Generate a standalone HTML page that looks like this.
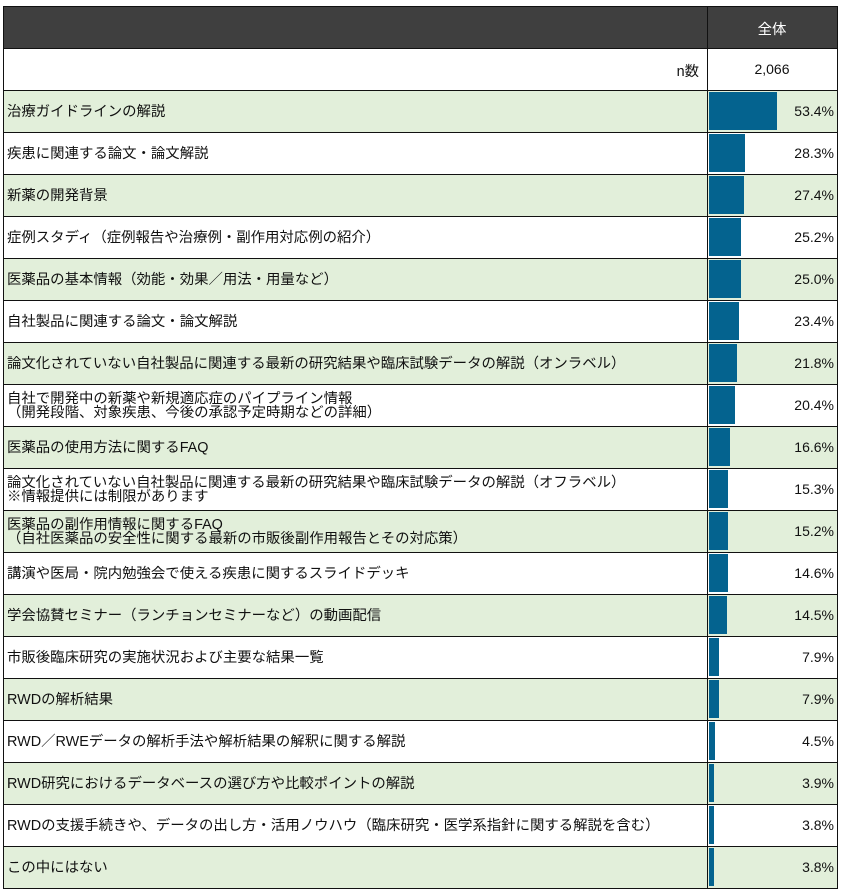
<!DOCTYPE html>
<html><head><meta charset="utf-8"><style>
*{margin:0;padding:0;box-sizing:border-box}
html,body{width:842px;height:894px;background:#fff;overflow:hidden}
body{position:relative;font-family:"Liberation Sans","Noto Sans CJK JP",sans-serif;color:#111}
.r{position:absolute;left:3px;width:835px;height:42px}
.g{background:#e2efda}
.lab{position:absolute;left:4px;top:0;height:42px;padding-top:2px;width:700px;display:flex;align-items:center;font-size:14.4px;line-height:14.5px;white-space:nowrap}
.bar{position:absolute;left:706px;top:2px;height:38px;background:#04638f}
.pct{position:absolute;right:4px;top:0;height:42px;display:flex;align-items:center;font-size:14px;font-family:"Liberation Sans",sans-serif}
.h{position:absolute;left:3px;width:835px;height:1px;background:#111}
.v{position:absolute;top:6px;width:1px;height:883px;background:#111}
</style></head><body>
<div style="position:absolute;left:3px;top:6px;width:835px;height:42px;background:#3f3f3f"></div>
<div style="position:absolute;left:707px;top:6px;width:130px;height:42px;padding-top:2px;display:flex;align-items:center;justify-content:center;color:#fff;font-size:14.4px;font-family:'Liberation Sans','Noto Sans CJK JP',sans-serif">全体</div>
<div style="position:absolute;left:3px;top:48px;width:696px;height:42px;padding-top:2px;display:flex;align-items:center;justify-content:flex-end;font-size:14.4px">n数</div>
<div style="position:absolute;left:707px;top:48px;width:130px;height:42px;display:flex;align-items:center;justify-content:center;font-size:14px">2,066</div>

<div class="r g" style="top:90px"><div class="lab">治療ガイドラインの解説</div><div class="bar" style="width:68px"></div><div class="pct">53.4%</div></div>
<div class="r" style="top:132px"><div class="lab">疾患に関連する論文・論文解説</div><div class="bar" style="width:36px"></div><div class="pct">28.3%</div></div>
<div class="r g" style="top:174px"><div class="lab">新薬の開発背景</div><div class="bar" style="width:35px"></div><div class="pct">27.4%</div></div>
<div class="r" style="top:216px"><div class="lab">症例スタディ（症例報告や治療例・副作用対応例の紹介）</div><div class="bar" style="width:32px"></div><div class="pct">25.2%</div></div>
<div class="r g" style="top:258px"><div class="lab">医薬品の基本情報（効能・効果／用法・用量など）</div><div class="bar" style="width:32px"></div><div class="pct">25.0%</div></div>
<div class="r" style="top:300px"><div class="lab">自社製品に関連する論文・論文解説</div><div class="bar" style="width:30px"></div><div class="pct">23.4%</div></div>
<div class="r g" style="top:342px"><div class="lab">論文化されていない自社製品に関連する最新の研究結果や臨床試験データの解説（オンラベル）</div><div class="bar" style="width:28px"></div><div class="pct">21.8%</div></div>
<div class="r" style="top:384px"><div class="lab">自社で開発中の新薬や新規適応症のパイプライン情報<br>（開発段階、対象疾患、今後の承認予定時期などの詳細）</div><div class="bar" style="width:26px"></div><div class="pct">20.4%</div></div>
<div class="r g" style="top:426px"><div class="lab">医薬品の使用方法に関するFAQ</div><div class="bar" style="width:21px"></div><div class="pct">16.6%</div></div>
<div class="r" style="top:468px"><div class="lab">論文化されていない自社製品に関連する最新の研究結果や臨床試験データの解説（オフラベル）<br>※情報提供には制限があります</div><div class="bar" style="width:19px"></div><div class="pct">15.3%</div></div>
<div class="r g" style="top:510px"><div class="lab">医薬品の副作用情報に関するFAQ<br>（自社医薬品の安全性に関する最新の市販後副作用報告とその対応策）</div><div class="bar" style="width:19px"></div><div class="pct">15.2%</div></div>
<div class="r" style="top:552px"><div class="lab">講演や医局・院内勉強会で使える疾患に関するスライドデッキ</div><div class="bar" style="width:19px"></div><div class="pct">14.6%</div></div>
<div class="r g" style="top:594px"><div class="lab">学会協賛セミナー（ランチョンセミナーなど）の動画配信</div><div class="bar" style="width:18px"></div><div class="pct">14.5%</div></div>
<div class="r" style="top:636px"><div class="lab">市販後臨床研究の実施状況および主要な結果一覧</div><div class="bar" style="width:10px"></div><div class="pct">7.9%</div></div>
<div class="r g" style="top:678px"><div class="lab">RWDの解析結果</div><div class="bar" style="width:10px"></div><div class="pct">7.9%</div></div>
<div class="r" style="top:720px"><div class="lab">RWD／RWEデータの解析手法や解析結果の解釈に関する解説</div><div class="bar" style="width:6px"></div><div class="pct">4.5%</div></div>
<div class="r g" style="top:762px"><div class="lab">RWD研究におけるデータベースの選び方や比較ポイントの解説</div><div class="bar" style="width:5px"></div><div class="pct">3.9%</div></div>
<div class="r" style="top:804px"><div class="lab">RWDの支援手続きや、データの出し方・活用ノウハウ（臨床研究・医学系指針に関する解説を含む）</div><div class="bar" style="width:5px"></div><div class="pct">3.8%</div></div>
<div class="r g" style="top:846px"><div class="lab">この中にはない</div><div class="bar" style="width:5px"></div><div class="pct">3.8%</div></div>

<div class="h" style="top:6px"></div>
<div class="h" style="top:48px"></div>
<div class="h" style="top:90px"></div>
<div class="h" style="top:132px"></div>
<div class="h" style="top:174px"></div>
<div class="h" style="top:216px"></div>
<div class="h" style="top:258px"></div>
<div class="h" style="top:300px"></div>
<div class="h" style="top:342px"></div>
<div class="h" style="top:384px"></div>
<div class="h" style="top:426px"></div>
<div class="h" style="top:468px"></div>
<div class="h" style="top:510px"></div>
<div class="h" style="top:552px"></div>
<div class="h" style="top:594px"></div>
<div class="h" style="top:636px"></div>
<div class="h" style="top:678px"></div>
<div class="h" style="top:720px"></div>
<div class="h" style="top:762px"></div>
<div class="h" style="top:804px"></div>
<div class="h" style="top:846px"></div>
<div class="h" style="top:888px"></div>
<div class="v" style="left:3px"></div>
<div class="v" style="left:707px"></div>
<div class="v" style="left:837px"></div>
</body></html>
